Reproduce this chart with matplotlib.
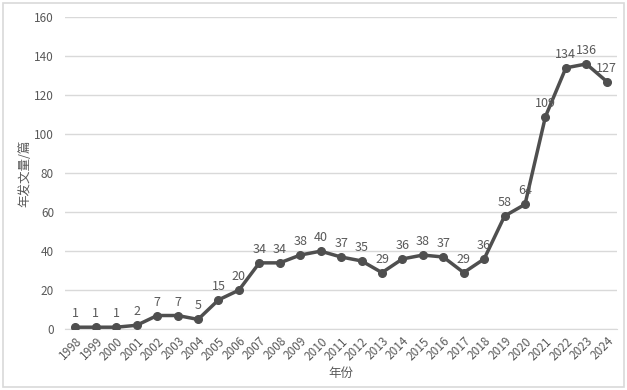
import matplotlib
matplotlib.use("Agg")
import matplotlib.pyplot as plt
from matplotlib.patches import Rectangle

plt.rcParams['font.family'] = ['Noto Sans CJK SC', 'DejaVu Sans']

years = [str(y) for y in range(1998, 2025)]
counts = [1, 1, 1, 2, 7, 7, 5, 15, 20, 34, 34, 38, 40, 37, 35, 29,
          36, 38, 37, 29, 36, 58, 64, 109, 134, 136, 127]

text_color = "#595959"
line_color = "#4f4f4f"

fig = plt.figure(figsize=(6.27, 3.90), dpi=100)
ax = fig.add_axes([0.104, 0.156, 0.880, 0.800])

x = list(range(len(years)))
ax.plot(x, counts, color=line_color, linewidth=2.5, marker="o", markersize=5.5, zorder=3)

for xi, v in zip(x, counts):
    ax.annotate(str(v), (xi, v), xytext=(0, 5), textcoords="offset points",
                ha="center", va="bottom", fontsize=9, color=text_color)

ax.set_xlim(-0.5, len(years) - 0.5)
ax.set_ylim(0, 160)
ax.set_yticks(range(0, 161, 20))
ax.set_xticks(x)
ax.set_xticklabels(years, rotation=45, ha="right", rotation_mode="anchor")
ax.tick_params(axis="both", length=0, labelsize=8.5, colors=text_color)
ax.tick_params(axis="x", pad=4)
ax.tick_params(axis="y", pad=8)

ax.grid(axis="y", color="#d9d9d9", linewidth=1)
ax.set_axisbelow(True)
for s in ["top", "right", "left"]:
    ax.spines[s].set_visible(False)
ax.spines["bottom"].set_color("#d9d9d9")

ax.set_xlabel("年份", fontsize=9, color=text_color, labelpad=3)
ax.set_ylabel("年发文量/篇", fontsize=9, color=text_color, labelpad=2)

fig.patches.append(Rectangle((0.005, 0.008), 0.99, 0.984, transform=fig.transFigure,
                             fill=False, edgecolor="#d9d9d9", linewidth=1.2))

fig.savefig("out.png", dpi=100)
